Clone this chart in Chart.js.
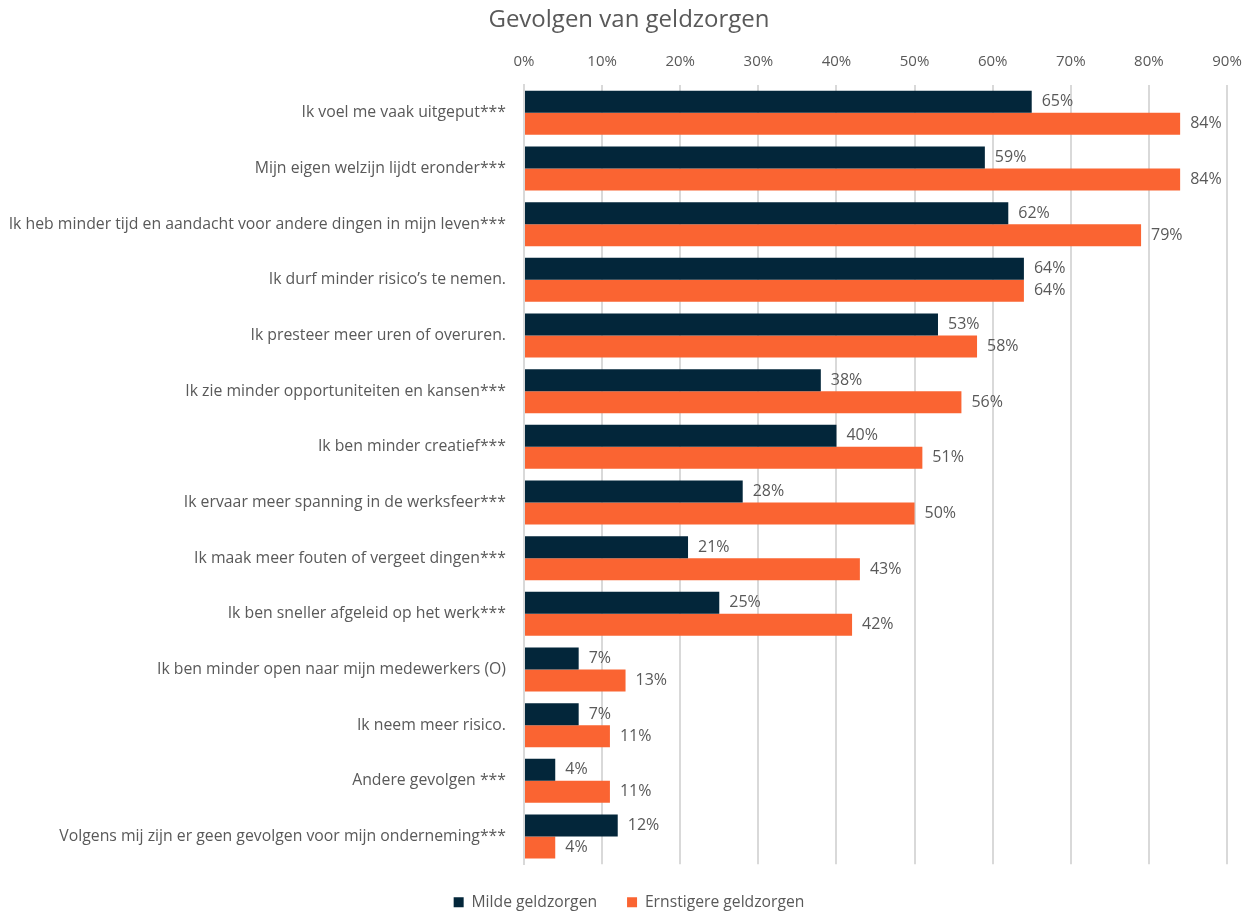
<!DOCTYPE html>
<html>
<head>
<meta charset="utf-8">
<script src="https://cdn.jsdelivr.net/npm/chart.js@4.4.1/dist/chart.umd.min.js"></script>
<style>
  html, body { margin: 0; padding: 0; background: #ffffff; }
  #wrap { width: 1258px; height: 913px; position: relative; }
</style>
</head>
<body>
<div id="wrap"><canvas id="c" width="1258" height="913"></canvas></div>
<script>
const categories = [
  "Ik voel me vaak uitgeput***",
  "Mijn eigen welzijn lijdt eronder***",
  "Ik heb minder tijd en aandacht voor andere dingen in mijn leven***",
  "Ik durf minder risico\u2019s te nemen.",
  "Ik presteer meer uren of overuren.",
  "Ik zie minder opportuniteiten en kansen***",
  "Ik ben minder creatief***",
  "Ik ervaar meer spanning in de werksfeer***",
  "Ik maak meer fouten of vergeet dingen***",
  "Ik ben sneller afgeleid op het werk***",
  "Ik ben minder open naar mijn medewerkers (O)",
  "Ik neem meer risico.",
  "Andere gevolgen ***",
  "Volgens mij zijn er geen gevolgen voor mijn onderneming***"
];
const seriesNames = ["Milde geldzorgen", "Ernstigere geldzorgen"];
const mildeValues = [65, 59, 62, 64, 53, 38, 40, 28, 21, 25, 7, 7, 4, 12];
const ernstigereValues = [84, 84, 79, 64, 58, 56, 51, 50, 43, 42, 13, 11, 11, 4];
const axisTicks = [0, 10, 20, 30, 40, 50, 60, 70, 80, 90];

const FONT = "'Open Sans', Lato, sans-serif";
const GREY = "#595959";

// Writes each bar's value just past its end
const valueLabels = {
  id: "valueLabels",
  afterDatasetsDraw(chart) {
    const ctx = chart.ctx;
    ctx.save();
    ctx.font = "16px " + FONT;
    ctx.fillStyle = GREY;
    ctx.textAlign = "left";
    ctx.textBaseline = "middle";
    chart.data.datasets.forEach((ds, di) => {
      chart.getDatasetMeta(di).data.forEach((bar, i) => {
        ctx.fillText(ds.data[i] + "%", bar.x + 10, bar.y);
      });
    });
    ctx.restore();
  }
};

new Chart(document.getElementById("c"), {
  type: "bar",
  data: {
    labels: categories,
    datasets: [
      { label: seriesNames[0], data: mildeValues, backgroundColor: "#03263A" },
      { label: seriesNames[1], data: ernstigereValues, backgroundColor: "#FA6432" }
    ]
  },
  options: {
    indexAxis: "y",
    responsive: false,
    animation: false,
    devicePixelRatio: 1,
    layout: { padding: { left: 31, right: 31, top: 3, bottom: -7 } },
    datasets: { bar: { barPercentage: 1.0, categoryPercentage: 0.79 } },
    scales: {
      x: {
        position: "top",
        min: 0,
        max: 90,
        afterBuildTicks(scale) { scale.ticks = axisTicks.map(v => ({ value: v })); },
        afterFit(scale) { scale.height = 44.2; },
        ticks: {
          color: GREY,
          font: { family: FONT, size: 15 },
          padding: 14,
          callback: v => v + "%"
        },
        grid: { color: "#d9d9d9", lineWidth: 2, drawTicks: false },
        border: { display: false }
      },
      y: {
        afterFit(scale) {
          scale.width = 493;
          // long category names may run into the left margin
          scale._computeLabelArea = () => undefined;
        },
        ticks: {
          color: GREY,
          font: { family: FONT, size: 15.8 },
          padding: 18,
          autoSkip: false
        },
        grid: { display: false, drawTicks: false },
        border: { display: true, color: "#d9d9d9", width: 2 }
      }
    },
    plugins: {
      title: {
        display: true,
        text: "Gevolgen van geldzorgen",
        color: GREY,
        font: { family: FONT, size: 24, weight: "normal" },
        padding: { top: 3, bottom: 6 }
      },
      legend: {
        position: "bottom",
        labels: {
          color: GREY,
          font: { family: FONT, size: 15.7 },
          boxWidth: 10,
          boxHeight: 10,
          padding: 30
        }
      },
      tooltip: { enabled: false }
    }
  },
  plugins: [valueLabels]
});
</script>
</body>
</html>
